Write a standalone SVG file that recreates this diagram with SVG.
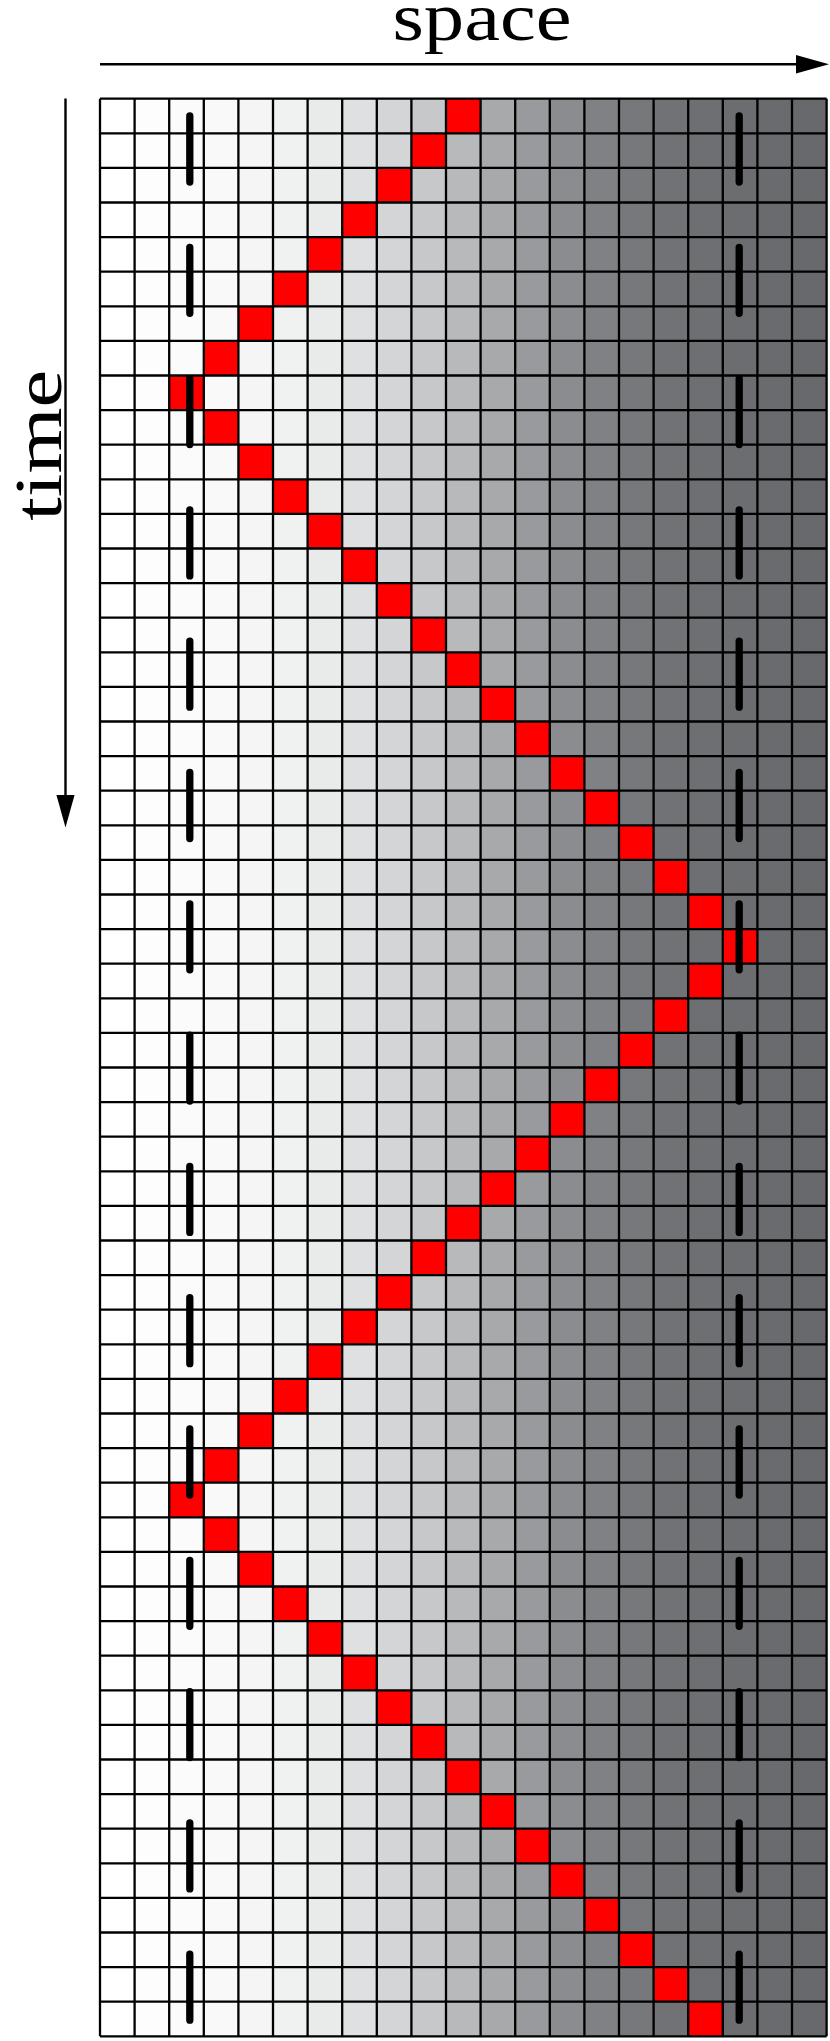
<svg xmlns="http://www.w3.org/2000/svg" width="830" height="2041" viewBox="0 0 830 2041">
<style>
.lbl{font-family:"Liberation Serif","DejaVu Serif",serif;font-size:68px;fill:#000}
.grid{fill:none;stroke:#000;stroke-width:2.3;vector-effect:non-scaling-stroke}
.red{fill:#ff0000}
.bar{fill:none;stroke:#000;stroke-width:7.3;stroke-linecap:round;stroke-dasharray:66 65.3}
.axis{fill:none;stroke:#000;stroke-width:2.4}
</style>
<defs>
<marker id="ah" markerUnits="userSpaceOnUse" viewBox="0 0 33 18.4" refX="1" refY="9.2" markerWidth="33" markerHeight="18.4" orient="auto">
<path d="M0,0 L33,9.2 L0,18.4 Z" fill="#000"/>
</marker>
</defs>
<rect width="830" height="2041" fill="#fff"/>
<g id="board" transform="translate(100,98.7) scale(34.6)">
<g id="columns">
<rect x="0" y="0" width="1" height="56" fill="#ffffff"/>
<rect x="1" y="0" width="1" height="56" fill="#fdfdfd"/>
<rect x="2" y="0" width="1" height="56" fill="#fbfbfb"/>
<rect x="3" y="0" width="1" height="56" fill="#f9f9f9"/>
<rect x="4" y="0" width="1" height="56" fill="#f5f5f5"/>
<rect x="5" y="0" width="1" height="56" fill="#f0f1f1"/>
<rect x="6" y="0" width="1" height="56" fill="#e9eaea"/>
<rect x="7" y="0" width="1" height="56" fill="#dfe0e1"/>
<rect x="8" y="0" width="1" height="56" fill="#d4d5d7"/>
<rect x="9" y="0" width="1" height="56" fill="#c7c8ca"/>
<rect x="10" y="0" width="1" height="56" fill="#b8b9bb"/>
<rect x="11" y="0" width="1" height="56" fill="#a8a9ab"/>
<rect x="12" y="0" width="1" height="56" fill="#999a9d"/>
<rect x="13" y="0" width="1" height="56" fill="#8b8c8f"/>
<rect x="14" y="0" width="1" height="56" fill="#808184"/>
<rect x="15" y="0" width="1" height="56" fill="#77787b"/>
<rect x="16" y="0" width="1" height="56" fill="#717275"/>
<rect x="17" y="0" width="1" height="56" fill="#6e6f72"/>
<rect x="18" y="0" width="1" height="56" fill="#6c6d70"/>
<rect x="19" y="0" width="1" height="56" fill="#6a6b6e"/>
<rect x="20" y="0" width="1" height="56" fill="#68696c"/>
</g>
<g id="path-cells" class="red">
<rect x="10" y="0" width="1" height="1"/>
<rect x="9" y="1" width="1" height="1"/>
<rect x="8" y="2" width="1" height="1"/>
<rect x="7" y="3" width="1" height="1"/>
<rect x="6" y="4" width="1" height="1"/>
<rect x="5" y="5" width="1" height="1"/>
<rect x="4" y="6" width="1" height="1"/>
<rect x="3" y="7" width="1" height="1"/>
<rect x="2" y="8" width="1" height="1"/>
<rect x="3" y="9" width="1" height="1"/>
<rect x="4" y="10" width="1" height="1"/>
<rect x="5" y="11" width="1" height="1"/>
<rect x="6" y="12" width="1" height="1"/>
<rect x="7" y="13" width="1" height="1"/>
<rect x="8" y="14" width="1" height="1"/>
<rect x="9" y="15" width="1" height="1"/>
<rect x="10" y="16" width="1" height="1"/>
<rect x="11" y="17" width="1" height="1"/>
<rect x="12" y="18" width="1" height="1"/>
<rect x="13" y="19" width="1" height="1"/>
<rect x="14" y="20" width="1" height="1"/>
<rect x="15" y="21" width="1" height="1"/>
<rect x="16" y="22" width="1" height="1"/>
<rect x="17" y="23" width="1" height="1"/>
<rect x="18" y="24" width="1" height="1"/>
<rect x="17" y="25" width="1" height="1"/>
<rect x="16" y="26" width="1" height="1"/>
<rect x="15" y="27" width="1" height="1"/>
<rect x="14" y="28" width="1" height="1"/>
<rect x="13" y="29" width="1" height="1"/>
<rect x="12" y="30" width="1" height="1"/>
<rect x="11" y="31" width="1" height="1"/>
<rect x="10" y="32" width="1" height="1"/>
<rect x="9" y="33" width="1" height="1"/>
<rect x="8" y="34" width="1" height="1"/>
<rect x="7" y="35" width="1" height="1"/>
<rect x="6" y="36" width="1" height="1"/>
<rect x="5" y="37" width="1" height="1"/>
<rect x="4" y="38" width="1" height="1"/>
<rect x="3" y="39" width="1" height="1"/>
<rect x="2" y="40" width="1" height="1"/>
<rect x="3" y="41" width="1" height="1"/>
<rect x="4" y="42" width="1" height="1"/>
<rect x="5" y="43" width="1" height="1"/>
<rect x="6" y="44" width="1" height="1"/>
<rect x="7" y="45" width="1" height="1"/>
<rect x="8" y="46" width="1" height="1"/>
<rect x="9" y="47" width="1" height="1"/>
<rect x="10" y="48" width="1" height="1"/>
<rect x="11" y="49" width="1" height="1"/>
<rect x="12" y="50" width="1" height="1"/>
<rect x="13" y="51" width="1" height="1"/>
<rect x="14" y="52" width="1" height="1"/>
<rect x="15" y="53" width="1" height="1"/>
<rect x="16" y="54" width="1" height="1"/>
<rect x="17" y="55" width="1" height="1"/>
</g>
<path id="grid-lines" class="grid" d="M0 0V56M1 0V56M2 0V56M3 0V56M4 0V56M5 0V56M6 0V56M7 0V56M8 0V56M9 0V56M10 0V56M11 0V56M12 0V56M13 0V56M14 0V56M15 0V56M16 0V56M17 0V56M18 0V56M19 0V56M20 0V56M21 0V56
M0 0H21M0 1H21M0 2H21M0 3H21M0 4H21M0 5H21M0 6H21M0 7H21M0 8H21M0 9H21M0 10H21M0 11H21M0 12H21M0 13H21M0 14H21M0 15H21M0 16H21M0 17H21M0 18H21M0 19H21M0 20H21M0 21H21M0 22H21M0 23H21M0 24H21M0 25H21M0 26H21M0 27H21M0 28H21M0 29H21M0 30H21M0 31H21M0 32H21M0 33H21M0 34H21M0 35H21M0 36H21M0 37H21M0 38H21M0 39H21M0 40H21M0 41H21M0 42H21M0 43H21M0 44H21M0 45H21M0 46H21M0 47H21M0 48H21M0 49H21M0 50H21M0 51H21M0 52H21M0 53H21M0 54H21M0 55H21M0 56H21"/>
</g>
<g id="walls">
<path class="bar" d="M189.8,116 V2020.2"/>
<path class="bar" d="M739.2,116 V2020.2"/>
</g>
<g id="connectors">
<path id="space-axis" class="axis" d="M100,64.3 H797" marker-end="url(#ah)"/>
<path id="time-axis" class="axis" d="M65.5,98.5 V795.5" marker-end="url(#ah)"/>
</g>
<g id="labels">
<text id="space-label" class="lbl" x="482" y="39.5" text-anchor="middle" textLength="179" lengthAdjust="spacingAndGlyphs">space</text>
<text id="time-label" class="lbl" transform="translate(61,445.3) rotate(-90)" x="0" y="0" text-anchor="middle" textLength="151" lengthAdjust="spacingAndGlyphs">time</text>
</g>
</svg>
